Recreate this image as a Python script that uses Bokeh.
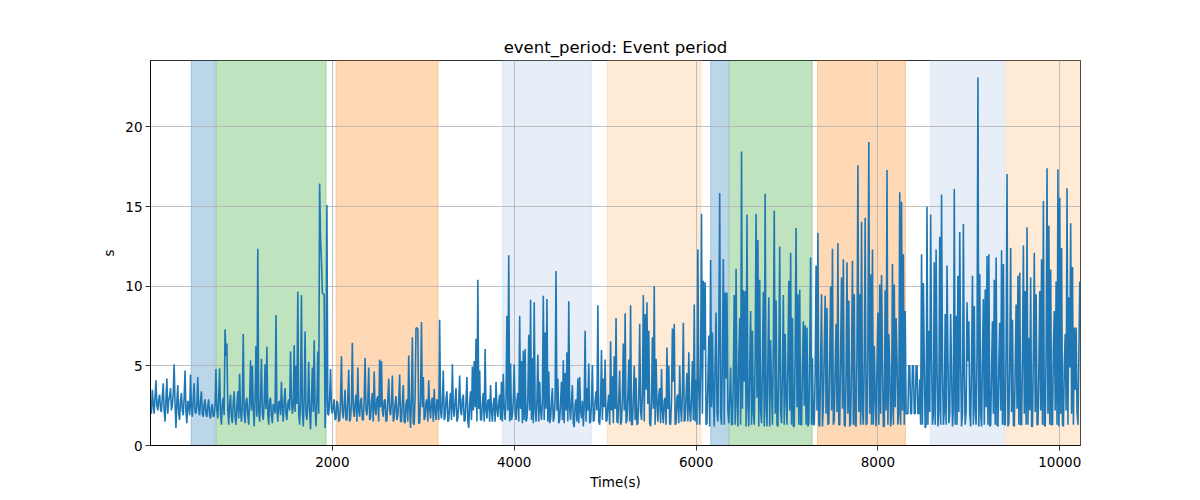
import numpy as np
from bokeh.plotting import figure
from bokeh.models import BoxAnnotation, Range1d, FixedTicker
from bokeh.embed import file_html
from bokeh.resources import INLINE

# ---- data: event period (s), one reading every 10 s of time ----
sample_step = 10
# readings at even sample slots (peaks / troughs), 1000 s per chunk
chunk_0 = [2.4, 3.5, 2.0, 4.1, 2.2, 3.2, 2.1, 3.9, 1.5, 4.2, 2.8, 3.6, 2.5, 5.1, 1.1, 3.8, 1.6, 3.3, 1.9, 4.7,
           1.4, 2.6, 4.45, 1.8, 3.9, 2.0, 4.3, 1.9, 3.4, 1.8, 2.9, 1.8, 2.9, 1.7, 2.6, 1.9, 4.8, 1.7, 4.85, 1.3,
           3.0, 7.3, 6.4, 1.3, 3.2, 1.4, 3.4, 1.3, 3.4, 4.5]
chunk_1 = [1.5, 7.0, 1.4, 3.0, 1.3, 5.35, 5.0, 1.2, 6.25, 12.35, 1.5, 5.45, 1.6, 5.1, 6.2, 1.3, 3.0, 1.4, 2.5, 8.2,
           1.5, 2.8, 4.0, 1.5, 3.6, 1.6, 2.9, 5.9, 2.0, 6.3, 5.0, 9.65, 1.3, 9.45, 1.2, 7.15, 1.6, 5.25, 1.0, 4.9,
           6.6, 1.2, 5.9, 16.45, 11.6, 9.5, 1.1, 15.1, 1.9, 4.8]
chunk_2 = [2.0, 2.9, 1.7, 2.6, 1.6, 5.6, 1.7, 3.5, 1.6, 4.75, 1.7, 6.45, 1.8, 3.2, 4.9, 1.8, 3.0, 1.6, 5.5, 1.9,
           4.9, 1.7, 3.3, 4.65, 1.9, 3.1, 5.4, 5.3, 1.8, 2.9, 1.6, 4.2, 1.9, 4.4, 1.7, 3.1, 1.9, 4.45, 1.5, 3.8,
           1.4, 2.9, 5.65, 1.1, 6.8, 1.3, 7.35, 7.3, 1.4, 7.75]
chunk_3 = [4.3, 1.8, 2.9, 4.1, 1.7, 3.0, 3.55, 1.6, 2.7, 7.9, 1.7, 4.7, 1.8, 3.4, 1.6, 3.3, 5.1, 1.8, 3.6, 1.7,
           4.4, 1.9, 3.2, 1.6, 4.3, 1.1, 3.4, 4.95, 5.3, 6.7, 10.4, 4.7, 1.6, 3.3, 6.05, 1.7, 2.9, 3.8, 1.5, 3.0,
           4.0, 1.8, 3.2, 4.0, 4.5, 1.6, 8.15, 11.95, 5.15, 1.9]
chunk_4 = [5.1, 1.6, 3.3, 8.15, 5.3, 5.95, 6.05, 1.7, 6.95, 9.15, 5.5, 9.0, 1.5, 5.7, 4.0, 1.6, 9.4, 7.1, 9.2, 4.65,
           1.7, 3.6, 1.8, 10.95, 4.2, 1.6, 4.0, 5.35, 4.55, 5.85, 9.05, 1.6, 3.8, 1.15, 2.9, 4.2, 4.3, 1.7, 1.2, 7.2,
           3.6, 5.15, 1.5, 5.05, 1.6, 3.4, 8.8, 1.3, 6.0, 4.2]
chunk_5 = [5.4, 1.6, 3.2, 6.55, 4.35, 5.6, 8.0, 1.4, 4.7, 1.5, 6.4, 8.3, 1.6, 5.4, 8.8, 1.3, 5.0, 4.25, 1.4, 7.65,
           1.6, 9.45, 8.25, 9.0, 7.2, 1.2, 6.8, 10.0, 5.45, 1.5, 3.6, 4.8, 1.4, 3.0, 6.15, 5.0, 1.3, 7.35, 7.65, 1.4,
           3.2, 5.0, 1.5, 7.7, 1.6, 4.55, 5.85, 1.5, 5.3, 8.85]
chunk_6 = [4.15, 12.3, 1.3, 14.55, 10.35, 10.25, 1.4, 6.9, 11.65, 7.1, 1.2, 8.35, 1.5, 15.85, 1.3, 11.7, 9.6, 9.6, 1.4, 4.9,
           1.3, 9.45, 11.1, 1.2, 8.0, 18.45, 9.75, 9.7, 14.5, 1.2, 8.45, 7.2, 1.3, 14.55, 12.9, 10.4, 1.4, 9.65, 15.8, 1.2,
           9.3, 6.6, 1.3, 14.75, 9.1, 1.2, 12.5, 1.4, 9.45, 7.0]
chunk_7 = [1.3, 10.35, 12.1, 8.0, 1.2, 13.65, 9.5, 9.8, 1.3, 7.8, 7.55, 7.4, 1.4, 11.8, 5.5, 1.3, 11.3, 13.35, 1.2, 9.5,
           2.5, 9.4, 8.65, 1.4, 10.0, 12.35, 1.6, 7.65, 12.7, 1.3, 10.55, 11.7, 1.2, 11.5, 9.1, 1.4, 11.6, 9.5, 1.2, 17.6,
           9.5, 14.05, 1.3, 14.3, 1.4, 19.05, 10.75, 12.3, 6.25, 1.2]
chunk_8 = [8.35, 10.1, 10.7, 1.2, 9.75, 17.3, 7.0, 1.2, 11.4, 10.1, 8.0, 1.3, 15.9, 15.3, 12.0, 8.45, 2.0, 5.0, 2.0, 5.0,
           2.0, 5.0, 2.0, 4.15, 12.0, 10.2, 1.1, 15.0, 7.2, 14.5, 1.3, 11.5, 12.3, 1.2, 13.1, 15.75, 1.3, 8.25, 11.3, 1.4,
           8.25, 1.2, 16.1, 8.15, 10.65, 13.4, 1.2, 13.9, 1.3, 9.0]
chunk_9 = [7.8, 1.2, 10.65, 8.75, 1.3, 23.1, 10.75, 1.2, 9.2, 9.8, 11.9, 12.0, 1.3, 7.8, 10.4, 11.8, 1.2, 7.7, 12.25, 11.4,
           1.3, 17.05, 1.4, 12.4, 7.9, 1.2, 8.85, 10.65, 10.85, 1.3, 12.55, 9.7, 13.7, 6.75, 10.55, 1.2, 12.1, 9.5, 1.3, 9.7,
           11.7, 15.35, 1.2, 17.4, 13.8, 11.05, 1.3, 8.45, 10.3, 17.35]
chunk_10 = [15.55, 12.4, 1.2, 7.0, 16.15, 9.3, 13.95, 11.2, 7.4, 7.4, 1.3, 10.3]

# readings at the odd sample slots (the dense baseline between the peaks)
fill_0 = [2.0, 2.6, 3.0, 2.5, 2.9, 2.3, 3.1, 2.2, 2.9, 2.0, 3.1, 2.2, 3.3, 2.6, 2.7, 2.0, 2.8, 2.2, 3.0, 2.1,
          2.8, 1.9, 2.4, 2.9, 2.1, 2.6, 2.2, 2.8, 2.0, 2.6, 2.0, 2.5, 1.9, 2.4, 1.8, 2.5, 2.2, 2.9, 2.0, 2.6,
          1.9, 5.6, 2.3, 2.6, 1.8, 2.7, 1.8, 2.5, 1.7, 2.2]
fill_1 = [2.6, 2.0, 2.7, 1.9, 2.8, 2.2, 2.4, 2.9, 1.8, 2.2, 2.9, 2.0, 2.7, 2.3, 2.0, 2.8, 1.9, 2.6, 2.0, 2.3,
          2.7, 1.9, 2.4, 2.8, 2.0, 2.6, 2.2, 3.0, 2.5, 2.1, 2.6, 2.0, 2.8, 2.2, 2.9, 2.0, 2.6, 2.2, 2.8, 2.1,
          2.4, 2.7, 2.0, 13.0, 9.6, 9.5, 2.8, 2.0, 2.9, 2.3]
fill_2 = [2.5, 1.6, 2.8, 1.5, 2.7, 2.2, 2.6, 1.6, 2.9, 1.5, 2.7, 2.3, 2.6, 1.5, 2.2, 2.8, 1.6, 2.9, 2.2, 2.7,
          1.6, 2.8, 1.5, 2.3, 2.9, 1.5, 2.4, 2.2, 2.8, 1.5, 2.9, 2.2, 2.7, 1.5, 2.6, 1.6, 2.8, 1.5, 2.7, 1.5,
          2.6, 1.5, 2.4, 2.9, 1.4, 3.1, 7.4, 1.4, 3.0, 2.4]
fill_3 = [1.6, 2.7, 1.5, 2.3, 2.8, 1.5, 2.2, 2.9, 1.6, 2.2, 2.8, 1.6, 2.9, 1.5, 2.7, 1.6, 2.3, 2.8, 1.5, 2.7,
          2.2, 2.9, 1.5, 2.8, 1.5, 2.6, 1.6, 2.2, 2.4, 1.5, 2.3, 1.6, 2.7, 1.5, 2.2, 2.8, 1.5, 2.2, 2.6, 1.5,
          2.3, 2.7, 1.6, 1.5, 2.4, 2.9, 2.2, 1.5, 1.6, 2.8]
fill_4 = [2.2, 2.8, 1.5, 2.3, 1.4, 1.6, 1.5, 2.9, 2.2, 1.6, 1.4, 2.3, 2.8, 1.5, 2.2, 2.7, 1.6, 2.3, 1.5, 1.4,
          2.8, 1.5, 2.9, 2.2, 1.4, 2.7, 1.6, 1.4, 2.2, 1.5, 2.3, 2.8, 1.4, 2.6, 1.5, 1.4, 2.2, 2.8, 2.5, 1.5,
          2.2, 1.4, 2.7, 1.5, 2.8, 2.2, 1.5, 2.6, 1.6, 2.4]
fill_5 = [1.5, 2.6, 1.3, 2.2, 1.4, 2.3, 1.5, 2.9, 1.3, 3.0, 2.2, 1.4, 3.1, 1.5, 1.3, 2.9, 1.6, 1.3, 3.0, 2.2,
          3.2, 1.5, 3.5, 2.6, 1.4, 2.8, 2.3, 1.3, 2.7, 3.1, 1.4, 2.2, 2.8, 1.3, 2.3, 1.4, 2.9, 4.0, 1.3, 3.0,
          1.4, 2.4, 3.3, 1.5, 3.1, 1.5, 2.2, 3.0, 1.6, 1.5]
fill_6 = [1.3, 3.5, 5.0, 2.0, 6.0, 1.3, 3.9, 1.2, 2.4, 3.0, 5.2, 2.1, 6.5, 2.0, 5.8, 1.3, 4.2, 2.2, 3.0, 1.3,
          4.4, 1.3, 2.6, 5.5, 1.3, 2.3, 4.0, 1.2, 2.5, 4.8, 1.3, 2.0, 5.6, 3.0, 1.2, 2.2, 5.0, 1.2, 2.4, 5.4,
          1.2, 3.6, 6.2, 2.0, 1.3, 5.0, 2.1, 4.6, 1.3, 3.1]
fill_7 = [5.2, 2.2, 1.3, 1.2, 6.0, 2.4, 1.3, 1.3, 4.8, 2.5, 1.3, 1.2, 5.6, 1.3, 1.3, 4.5, 2.2, 1.3, 5.0, 1.2,
          6.1, 2.0, 1.3, 5.4, 2.2, 1.3, 4.9, 2.1, 1.3, 5.8, 2.3, 1.3, 4.6, 2.0, 1.2, 5.2, 1.3, 1.3, 6.0, 2.1,
          1.3, 2.2, 5.5, 1.3, 6.2, 2.0, 1.3, 1.3, 3.0, 5.1]
fill_8 = [1.3, 2.0, 5.0, 1.2, 2.2, 1.3, 4.8, 2.1, 1.3, 2.4, 5.4, 2.0, 1.3, 2.2, 1.3, 2.0, 2.0, 5.0, 2.0, 5.0,
          2.0, 5.0, 2.0, 1.3, 1.3, 5.2, 1.3, 1.3, 2.1, 5.6, 2.0, 1.3, 4.8, 2.2, 1.3, 5.0, 2.1, 1.3, 5.5, 2.0,
          4.6, 2.2, 1.3, 1.3, 2.1, 5.1, 2.0, 4.4, 2.1, 5.3]
fill_9 = [2.0, 5.4, 1.3, 2.2, 5.8, 1.2, 2.0, 5.6, 1.3, 2.4, 1.3, 1.2, 4.8, 2.0, 1.3, 1.3, 5.1, 2.2, 1.3, 1.3,
          6.0, 1.2, 5.2, 2.1, 1.3, 4.9, 2.3, 1.3, 1.3, 5.5, 2.0, 1.3, 1.3, 2.2, 1.2, 5.8, 2.1, 1.3, 4.7, 2.2,
          1.3, 1.3, 5.9, 2.0, 1.3, 1.3, 6.1, 2.2, 1.3, 1.2]
fill_10 = [2.0, 1.3, 5.0, 2.2, 1.3, 4.9, 2.0, 1.3, 3.5, 2.1, 5.6]

peaks = (chunk_0 + chunk_1 + chunk_2 + chunk_3 + chunk_4 + chunk_5 +
         chunk_6 + chunk_7 + chunk_8 + chunk_9 + chunk_10)
fills = (fill_0 + fill_1 + fill_2 + fill_3 + fill_4 + fill_5 +
         fill_6 + fill_7 + fill_8 + fill_9 + fill_10)
period = []
for a, b in zip(peaks, fills):
    period.extend([a, b])
period.append(peaks[-1])
time = np.arange(len(period)) * sample_step

# shaded phases (start, end in s) and their colours
span_start = [447, 722, 2041, 3870, 5025, 6161, 6367, 7335, 8578, 9410]
span_end = [712, 1931, 3163, 4849, 6054, 6356, 7277, 8303, 9397, 10240]
span_color = ["#1f77b4", "#2ca02c", "#ff7f0e", "#aec7e8", "#ffbb78",
              "#1f77b4", "#2ca02c", "#ff7f0e", "#aec7e8", "#ffbb78"]

x_ticks = [2000, 4000, 6000, 8000, 10000]
y_ticks = [0, 5, 10, 15, 20]

FONT = "DejaVu Sans"

p = figure(frame_width=930, frame_height=385, output_backend="svg", toolbar_location=None,
           title="event_period: Event period",
           x_range=Range1d(0, 10228), y_range=Range1d(0, 24.17),
           min_border_left=150, min_border_right=104, min_border_top=60, min_border_bottom=45)

for s, e, c in zip(span_start, span_end, span_color):
    p.add_layout(BoxAnnotation(left=s, right=e, fill_color=c, fill_alpha=0.3,
                               line_color=c, line_alpha=0.3, line_width=1, level="image"))

p.line(time, period, line_color="#1f77b4", line_width=1.6)

p.title.align = "center"
p.title.text_font = FONT
p.title.text_font_size = "16.5px"
p.title.text_font_style = "normal"
p.title.text_color = "black"
p.title.standoff = 7

p.xaxis.ticker = FixedTicker(ticks=x_ticks)
p.yaxis.ticker = FixedTicker(ticks=y_ticks)
p.xaxis.axis_label = "Time(s)"
p.yaxis.axis_label = "s"
for ax in (p.xaxis, p.yaxis):
    ax.axis_label_text_font = FONT
    ax.axis_label_text_font_size = "13.5px"
    ax.axis_label_text_font_style = "normal"
    ax.axis_label_text_color = "black"
    ax.major_label_text_font = FONT
    ax.major_label_text_font_size = "13.5px"
    ax.major_label_text_color = "black"
    ax.axis_line_color = "black"
    ax.axis_line_width = 0.8
    ax.major_tick_line_color = "black"
    ax.major_tick_line_width = 0.8
    ax.major_tick_out = 5
    ax.major_tick_in = 0
    ax.minor_tick_line_color = None
p.xaxis.major_label_standoff = 6
p.yaxis.major_label_standoff = 3
p.xaxis.axis_label_standoff = 4
p.yaxis.axis_label_standoff = 5

p.xgrid.ticker = FixedTicker(ticks=x_ticks)
p.ygrid.ticker = FixedTicker(ticks=y_ticks)
p.grid.grid_line_color = "#b0b0b0"
p.grid.grid_line_width = 0.8
p.outline_line_color = "black"
p.outline_line_width = 0.8
p.outline_line_alpha = 1.0
p.background_fill_color = "white"
p.border_fill_color = "white"

open("out.html", "w").write(file_html(p, INLINE))
